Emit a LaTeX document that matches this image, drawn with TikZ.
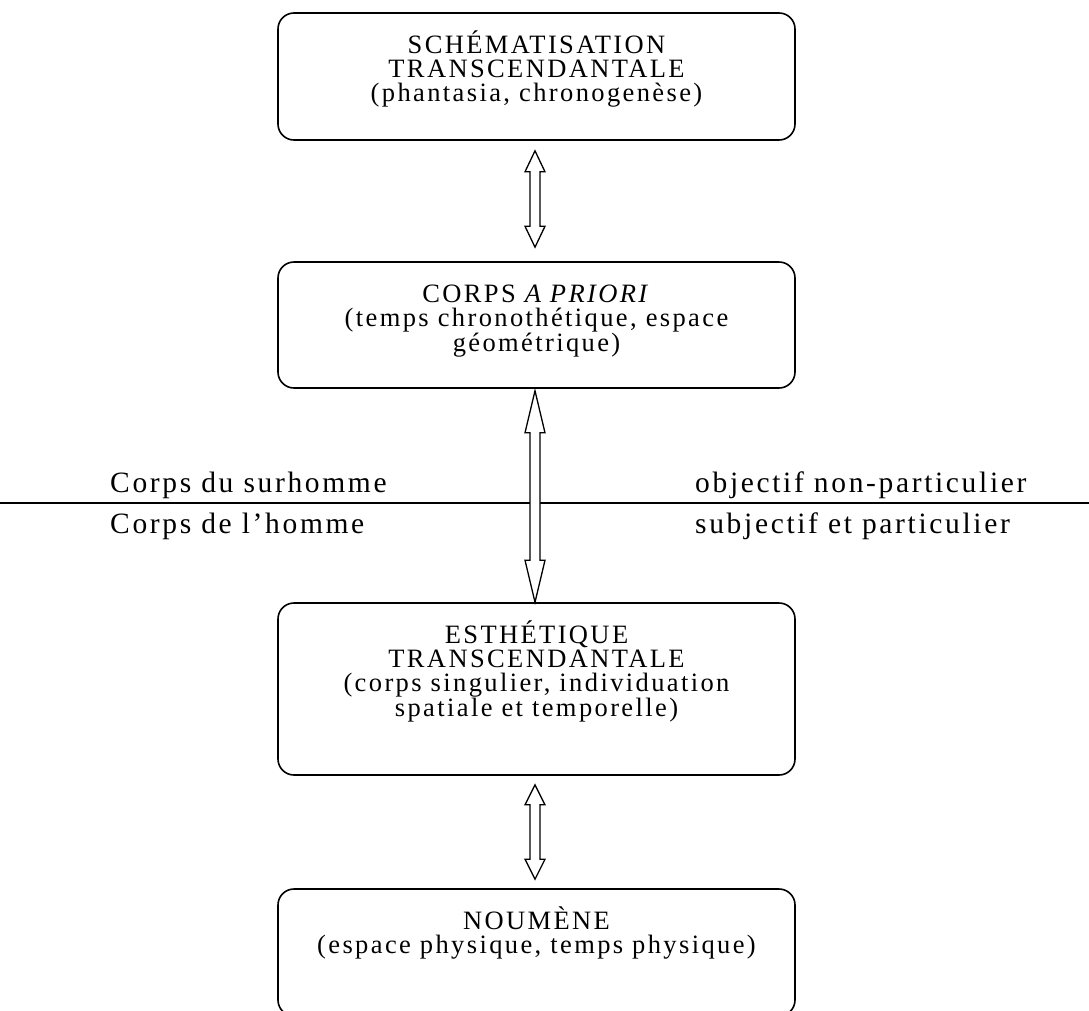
\documentclass[tikz,border=0pt]{standalone}
\usepackage{fontspec}
\setmainfont{Liberation Serif}[LetterSpace=9]
\usetikzlibrary{calc}
\newcommand\topstrut{\rule{0pt}{24pt}}
\newcommand\hdbl[3]{\draw[hollow] let \p1=(#1),\p2=(#2) in
  (\x1,\y1) -- (\x1+10pt,\y1-#3) -- (\x1+5pt,\y1-#3) -- (\x1+5pt,\y2+#3) --
  (\x1+10pt,\y2+#3) -- (\x1,\y2) -- (\x1-10pt,\y2+#3) -- (\x1-5pt,\y2+#3) --
  (\x1-5pt,\y1-#3) -- (\x1-10pt,\y1-#3) -- cycle;}
\begin{document}
\begin{tikzpicture}[x=1pt,y=-1pt,
  box/.style={draw,line width=1.6pt,rounded corners=16pt,minimum width=517pt,inner sep=0pt},
  boxtext/.style={align=center,inner sep=0pt,anchor=north,font=\fontsize{26.5}{24}\selectfont},
  lab/.style={inner sep=0pt,font=\fontsize{29.5}{30}\selectfont},
  hollow/.style={draw,line width=1.3pt,fill=white,line join=miter}]
\useasboundingbox (0,0) rectangle (1089,1010);
% boxes
\node[box,minimum height=127pt] (b1) at (536.5,76.5) {};
\node[box,minimum height=126pt] (b2) at (536.5,325) {};
\node[box,minimum height=172pt] (b3) at (536.5,689) {};
\node[box,minimum height=127pt] (b4) at (536.5,952.5) {};
% texts
\node[boxtext] (t1) at ($(b1.north)+(0,17)$) {\topstrut SCHÉMATISATION\\TRANSCENDANTALE\\(phantasia, chronogenèse)};
\node[boxtext] (t2) at ($(b2.north)+(0,17)$) {\topstrut CORPS \textit{A PRIORI}\\(temps chronothétique, espace\\géométrique)};
\node[boxtext] (t3) at ($(b3.north)+(0,17)$) {\topstrut ESTHÉTIQUE\\TRANSCENDANTALE\\(corps singulier, individuation\\spatiale et temporelle)};
\node[boxtext] (t4) at ($(b4.north)+(0,17)$) {\topstrut NOUMÈNE\\(espace physique, temps physique)};
% separator
\coordinate (hl) at (0,503);
\coordinate (hr) at (1089,503);
\draw[line width=1.6pt] (hl) -- (hr);
\node[lab,anchor=base west] (l1) at (110,492) {Corps du surhomme};
\node[lab,anchor=base west] (l2) at (695,492) {objectif non-particulier};
\node[lab,anchor=base west] (l3) at (110,533) {Corps de l’homme};
\node[lab,anchor=base west] (l4) at (695,533) {subjectif et particulier};
% arrows
\coordinate (a1t) at ([xshift=-1.5pt,yshift=-10pt]b1.south);
\coordinate (a1b) at ([xshift=-1.5pt,yshift=14pt]b2.north);
\coordinate (a2t) at ([xshift=-1.5pt,yshift=-2pt]b2.south);
\coordinate (a2b) at ([xshift=-1.5pt]b3.north);
\coordinate (a3t) at ([xshift=-1.5pt,yshift=-9pt]b3.south);
\coordinate (a3b) at ([xshift=-1.5pt,yshift=9pt]b4.north);
\hdbl{a1t}{a1b}{21pt}
\hdbl{a2t}{a2b}{42pt}
\hdbl{a3t}{a3b}{20pt}
\end{tikzpicture}
\end{document}
